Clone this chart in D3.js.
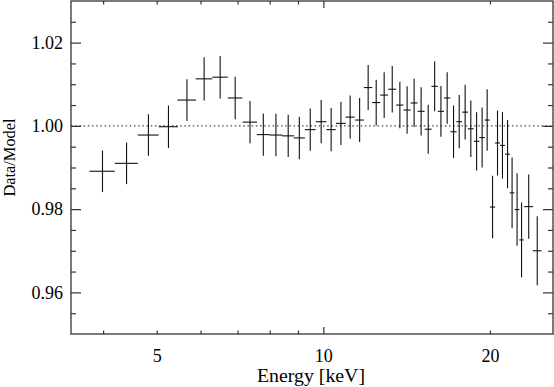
<!DOCTYPE html>
<html>
<head>
<meta charset="utf-8">
<script src="https://cdn.jsdelivr.net/npm/d3@7"></script>
<style>
  body { margin: 0; background: #fff; }
  svg { display: block; }
  text { font-family: "Liberation Serif", "DejaVu Serif", serif; fill: #000; }
</style>
</head>
<body>
<svg width="554" height="387"></svg>
<script>
// bin centres and half widths in keV
var energy = [3.99, 4.41, 4.83, 5.25, 5.67, 6.09, 6.51, 6.93, 7.37, 7.79,
    8.21, 8.64, 9.05, 9.47, 9.91, 10.33, 10.76, 11.18, 11.63, 12.05,
    12.46, 12.88, 13.32, 13.75, 14.17, 14.59, 15.02, 15.47, 15.89, 16.31,
    16.74, 17.19, 17.6, 18.04, 18.47, 18.92, 19.36, 19.77, 20.22, 20.64,
    21.07, 21.52, 21.93, 22.39, 22.81, 23.5, 24.35];
var energyErr = [0.21, 0.21, 0.21, 0.21, 0.22, 0.21, 0.21, 0.21, 0.22, 0.21,
    0.22, 0.22, 0.21, 0.21, 0.22, 0.2, 0.22, 0.21, 0.21, 0.21,
    0.21, 0.21, 0.22, 0.21, 0.21, 0.21, 0.22, 0.22, 0.21, 0.21,
    0.22, 0.22, 0.21, 0.22, 0.22, 0.22, 0.22, 0.21, 0.22, 0.21,
    0.22, 0.22, 0.21, 0.22, 0.21, 0.44, 0.45];
// data / model ratio and 1 sigma errors
var ratio = [0.9891, 0.9910, 0.9978, 0.9998, 1.0062, 1.0113, 1.0117, 1.0067, 1.0009, 0.9979,
    0.9978, 0.9976, 0.9971, 0.9991, 1.0010, 0.9991, 1.0006, 1.0021, 1.0014, 1.0092,
    1.0056, 1.0074, 1.0088, 1.0050, 1.0038, 1.0055, 1.0035, 0.9992, 1.0095, 1.0035,
    1.0067, 0.9986, 1.0010, 1.0033, 0.9993, 0.9963, 0.9972, 1.0014, 0.9805, 0.9959,
    0.9953, 0.9932, 0.9839, 0.9799, 0.9726, 0.9806, 0.9700];
var ratioErr = [0.0050, 0.0050, 0.0050, 0.0051, 0.0050, 0.0052, 0.0051, 0.0051, 0.0051, 0.0051,
    0.0051, 0.0051, 0.0051, 0.0051, 0.0052, 0.0052, 0.0052, 0.0052, 0.0053, 0.0054,
    0.0055, 0.0055, 0.0056, 0.0056, 0.0057, 0.0058, 0.0058, 0.0059, 0.0060, 0.0061,
    0.0062, 0.0063, 0.0064, 0.0066, 0.0068, 0.0070, 0.0072, 0.0074, 0.0075, 0.0078,
    0.0080, 0.0082, 0.0085, 0.0087, 0.0090, 0.0077, 0.0083];

// ticks
var xLabelTicks = [5, 10, 20];
var xMajorTicks = [10];
var xMinorTicks = [4, 5, 6, 7, 8, 9, 20];
var yLabelTicks = [0.96, 0.98, 1.00, 1.02];
var yMinorTicks = [0.955, 0.965, 0.97, 0.975, 0.985, 0.99, 0.995, 1.005, 1.01, 1.015, 1.025];

var svg = d3.select("svg");
// plot box (avoid the name "top", it is window.top)
var boxL = 71, boxR = 553, boxT = 1, boxB = 334;
var serif = "'Liberation Serif', 'DejaVu Serif', serif";

var x = d3.scaleLog().domain([3.5, 26]).range([boxL, boxR]);
var y = d3.scaleLinear().domain([0.95, 1.03]).range([boxB, boxT]);

var points = energy.map(function (e, i) {
    return {e: e, de: energyErr[i], r: ratio[i], dr: ratioErr[i]};
});

// reference line at 1
svg.append("line")
    .attr("x1", boxL).attr("x2", boxR)
    .attr("y1", y(1)).attr("y2", y(1))
    .attr("stroke", "#444")
    .attr("stroke-width", 1.2)
    .attr("stroke-dasharray", "1.5,2.7");

// data crosses
var g = svg.append("g").attr("stroke", "#111").attr("stroke-width", 1.1);
g.selectAll("line.h").data(points).enter().append("line")
    .attr("class", "h")
    .attr("x1", function (d) { return x(d.e - d.de); })
    .attr("x2", function (d) { return x(d.e + d.de); })
    .attr("y1", function (d) { return y(d.r); })
    .attr("y2", function (d) { return y(d.r); });
g.selectAll("line.v").data(points).enter().append("line")
    .attr("class", "v")
    .attr("x1", function (d) { return x(d.e); })
    .attr("x2", function (d) { return x(d.e); })
    .attr("y1", function (d) { return y(d.r - d.dr); })
    .attr("y2", function (d) { return y(d.r + d.dr); });

// inward ticks on all four sides
function tickAxis(axis, tr) {
    var a = svg.append("g").attr("transform", tr).call(axis);
    a.select(".domain").remove();
    a.selectAll("line").attr("stroke", "#333").attr("stroke-width", 1.2);
    return a;
}
tickAxis(d3.axisBottom(x).tickValues(xMinorTicks).tickSize(-3.5).tickFormat(""), "translate(0," + boxB + ")");
tickAxis(d3.axisBottom(x).tickValues(xMajorTicks).tickSize(-7).tickFormat(""), "translate(0," + boxB + ")");
tickAxis(d3.axisTop(x).tickValues(xMinorTicks).tickSize(-3.5).tickFormat(""), "translate(0," + boxT + ")");
tickAxis(d3.axisTop(x).tickValues(xMajorTicks).tickSize(-7).tickFormat(""), "translate(0," + boxT + ")");
tickAxis(d3.axisLeft(y).tickValues(yMinorTicks).tickSize(-5).tickFormat(""), "translate(" + boxL + ",0)");
tickAxis(d3.axisLeft(y).tickValues(yLabelTicks).tickSize(-10).tickFormat(""), "translate(" + boxL + ",0)");
tickAxis(d3.axisRight(y).tickValues(yMinorTicks).tickSize(-5).tickFormat(""), "translate(" + boxR + ",0)");
tickAxis(d3.axisRight(y).tickValues(yLabelTicks).tickSize(-10).tickFormat(""), "translate(" + boxR + ",0)");

// tick labels
var xl = svg.append("g").attr("transform", "translate(0," + boxB + ")")
    .call(d3.axisBottom(x).tickValues(xLabelTicks).tickSize(0).tickPadding(15).tickFormat(d3.format("d")))
    .attr("font-family", serif).attr("font-size", 18);
xl.select(".domain").remove();
xl.selectAll("text").style("font-family", serif).style("font-size", "18px").attr("fill", "#000");

var yl = svg.append("g").attr("transform", "translate(" + boxL + ",0)")
    .call(d3.axisLeft(y).tickValues(yLabelTicks).tickSize(0).tickPadding(8).tickFormat(d3.format(".2f")))
    .attr("font-family", serif).attr("font-size", 18);
yl.select(".domain").remove();
yl.selectAll("text").style("font-family", serif).style("font-size", "18px").attr("fill", "#000");

// frame
svg.append("rect")
    .attr("x", boxL).attr("y", boxT)
    .attr("width", boxR - boxL).attr("height", boxB - boxT)
    .attr("fill", "none")
    .attr("stroke", "#333")
    .attr("stroke-width", 1.3);

// axis titles
svg.append("text")
    .attr("x", (boxL + boxR) / 2 - 1).attr("y", 382)
    .attr("text-anchor", "middle")
    .attr("textLength", 108).attr("lengthAdjust", "spacingAndGlyphs")
    .style("font-size", "18px")
    .text("Energy [keV]");

svg.append("text")
    .attr("transform", "translate(15,157.5) rotate(-90)")
    .attr("text-anchor", "middle")
    .attr("textLength", 78).attr("lengthAdjust", "spacingAndGlyphs")
    .style("font-size", "17px")
    .text("Data/Model");
</script>
</body>
</html>
